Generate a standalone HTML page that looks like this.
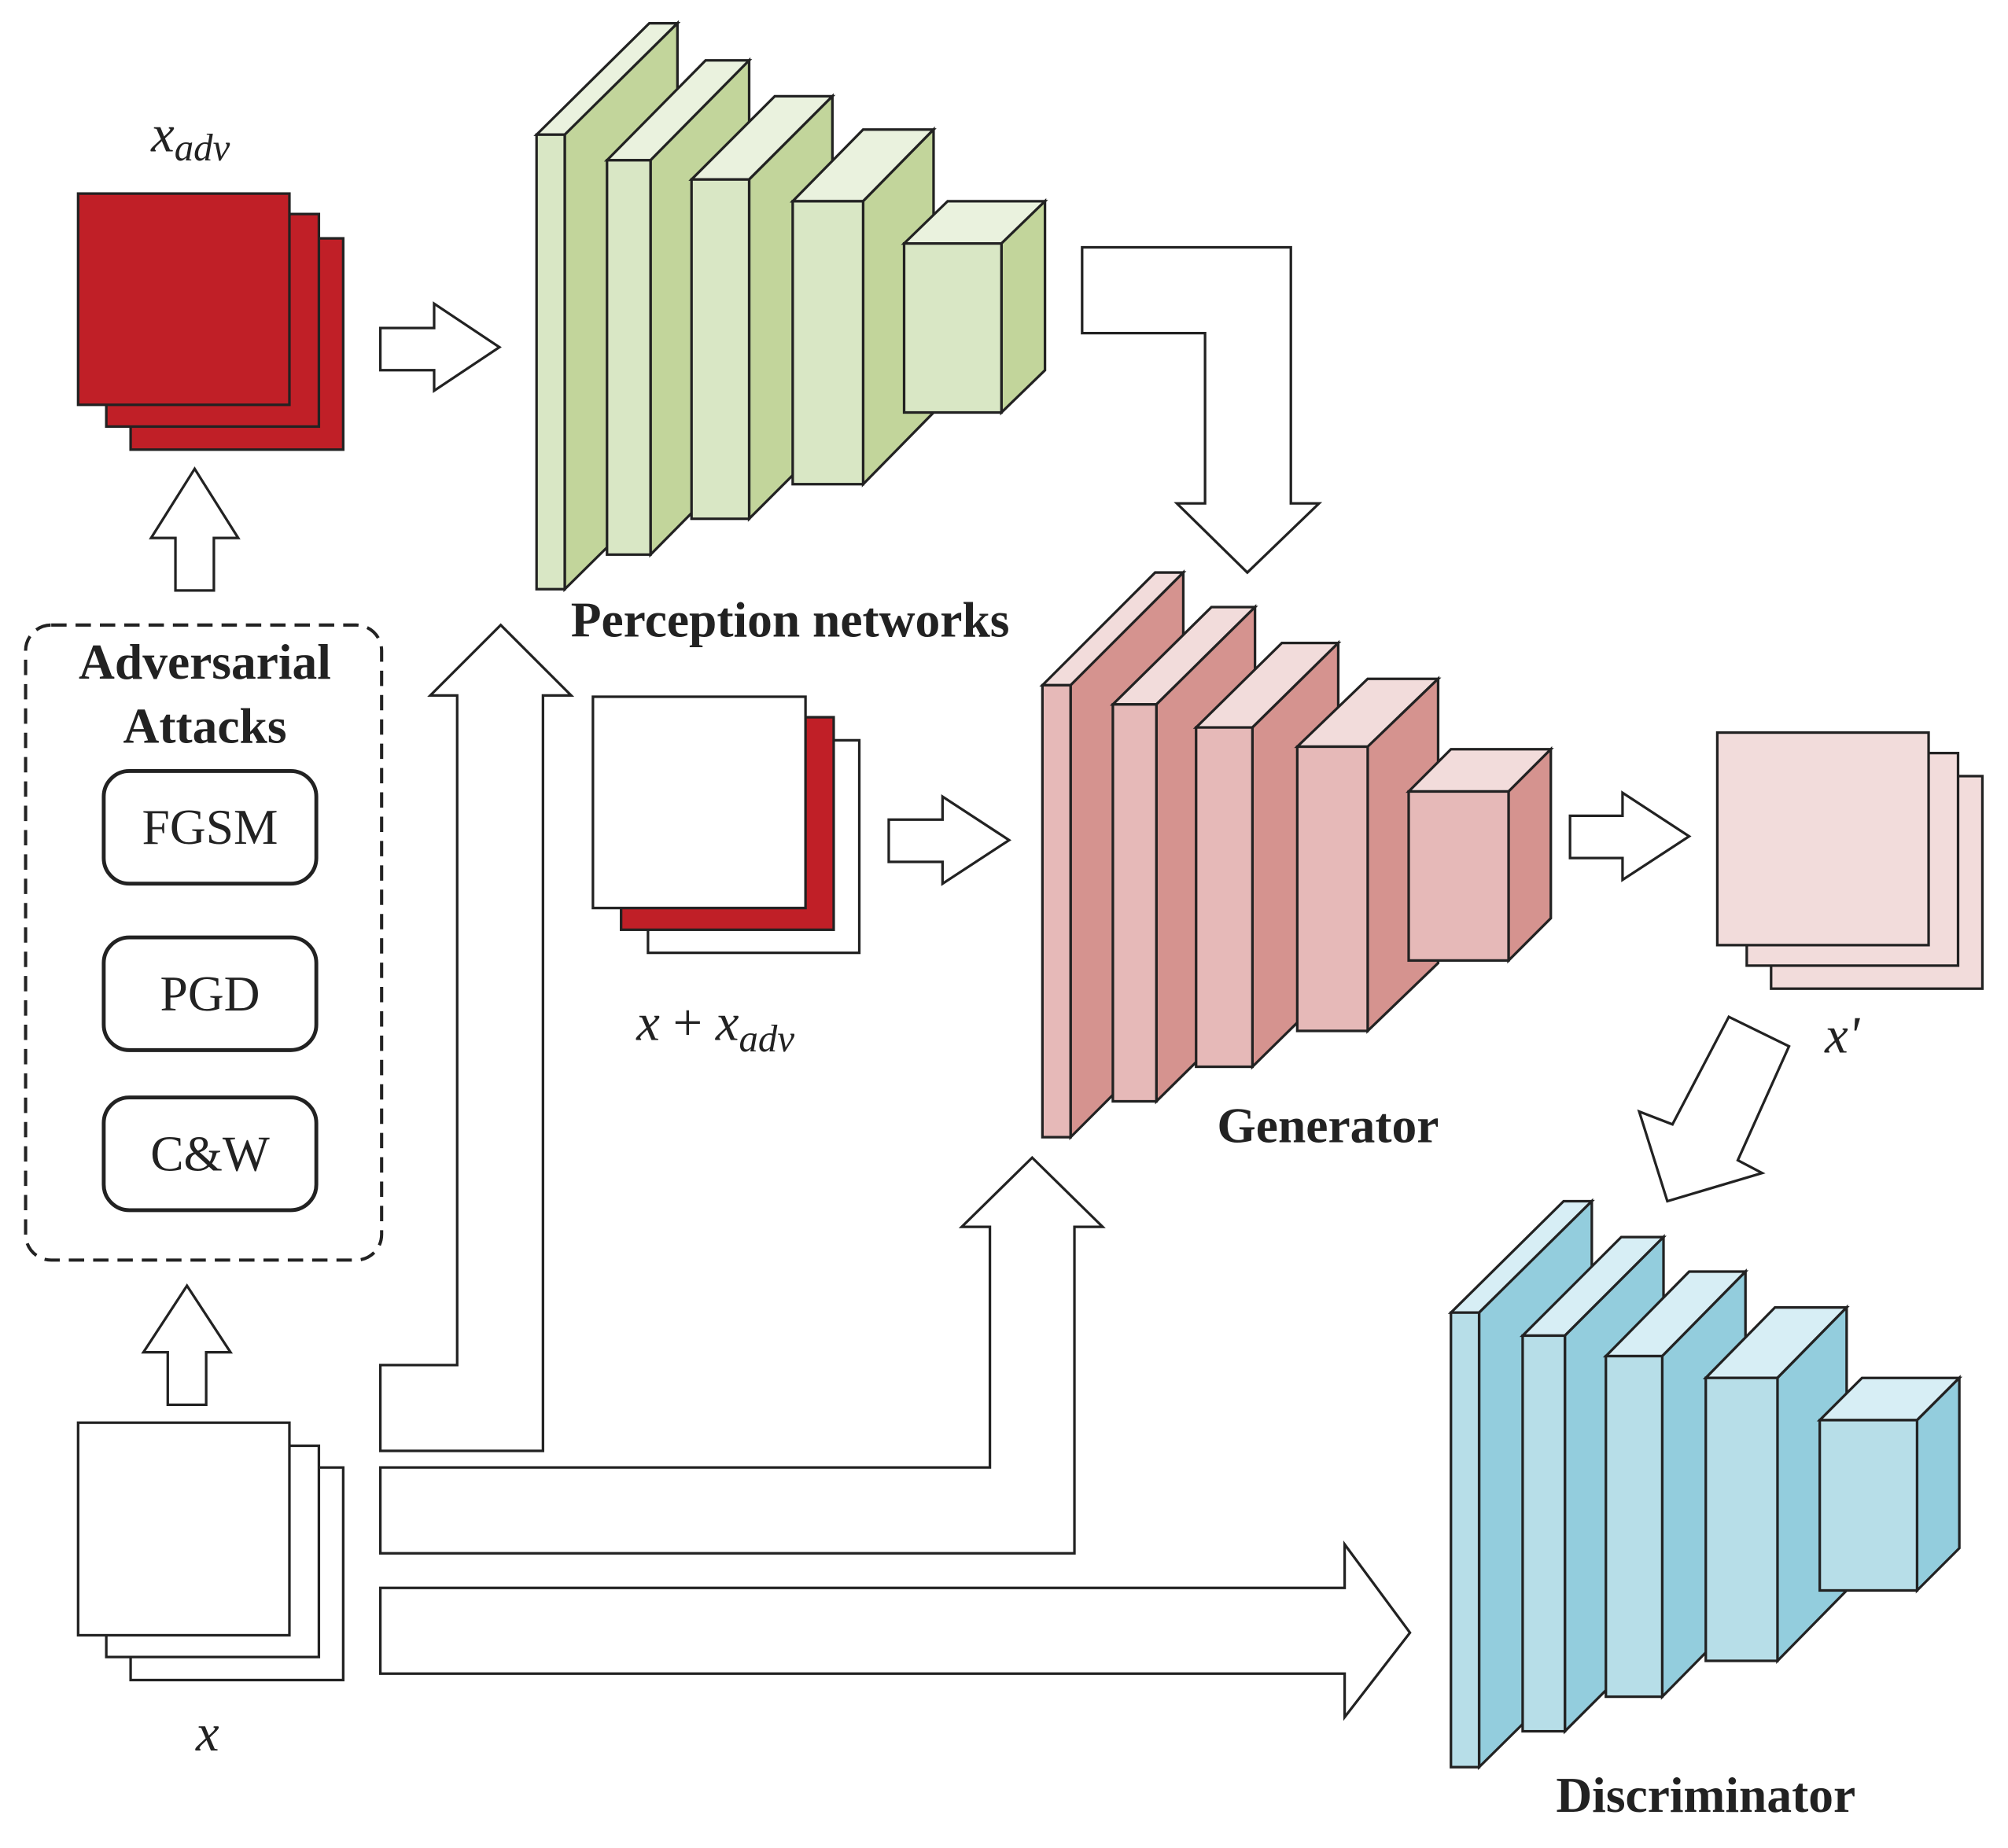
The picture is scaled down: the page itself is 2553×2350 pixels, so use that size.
<!DOCTYPE html>
<html><head><meta charset="utf-8"><style>
html,body{margin:0;padding:0;background:#fff;}
svg{display:block;}
text{font-family:"Liberation Serif",serif;fill:#222;}
</style></head><body>
<svg width="2553" height="2350" viewBox="0 0 1568 1443" xmlns="http://www.w3.org/2000/svg">
<g stroke="#222" stroke-width="2" stroke-linejoin="miter">
<rect x="102" y="186" width="166" height="165" fill="#C01F27"/>
<rect x="83" y="167" width="166" height="166" fill="#C01F27"/>
<rect x="61" y="151" width="165" height="165" fill="#C01F27"/>
<rect x="506" y="578" width="165" height="166" fill="#fff"/>
<rect x="485" y="560" width="166" height="166" fill="#C01F27"/>
<rect x="463" y="544" width="166" height="165" fill="#fff"/>
<rect x="1383" y="606" width="165" height="166" fill="#F2DCDB"/>
<rect x="1364" y="588" width="165" height="166" fill="#F2DCDB"/>
<rect x="1341" y="572" width="165" height="166" fill="#F2DCDB"/>
<rect x="102" y="1146" width="166" height="166" fill="#fff"/>
<rect x="83" y="1129" width="166" height="165" fill="#fff"/>
<rect x="61" y="1111" width="165" height="166" fill="#fff"/>

<g fill="#fff">
<polygon points="297,256 339,256 339,237 390,271 339,305 339,289 297,289"/>
<polygon points="694,640 736,640 736,622 788,656 736,690 736,673 694,673"/>
<polygon points="1226,637 1267,637 1267,619 1319,653 1267,687 1267,670 1226,670"/>
<polygon points="137,461 137,420 118,420 152,366 186,420 167,420 167,461"/>
<polygon points="131,1097 131,1056 112,1056 146,1004 180,1056 161,1056 161,1097"/>
<polygon points="845,193 1008,193 1008,393 1030,393 974,447 919,393 941,393 941,260 845,260"/>
<polygon points="1350,794 1397,817 1357,906 1376,916 1302,938 1280,868 1306,878"/>
<polygon points="297,1133 424,1133 424,543 446,543 391,488 336,543 357,543 357,1066 297,1066"/>
<polygon points="297,1213 839,1213 839,958 861,958 806,904 751,958 773,958 773,1146 297,1146"/>
<polygon points="297,1240 1050,1240 1050,1206 1101,1275 1050,1341 1050,1307 297,1307"/>
</g>

<rect x="20" y="488" width="278" height="496" rx="20" fill="none" stroke-dasharray="12,7" stroke-width="2.5"/>
<rect x="81" y="602" width="166" height="88" rx="20" fill="#fff" stroke-width="3"/>
<rect x="81" y="732" width="166" height="88" rx="20" fill="#fff" stroke-width="3"/>
<rect x="81" y="857" width="166" height="88" rx="20" fill="#fff" stroke-width="3"/>

<g>
<polygon points="419,105 507,18 529,18 441,105" fill="#EAF2DE"/><polygon points="441,105 529,18 529,373 441,460" fill="#C2D59B"/><rect x="419" y="105" width="22" height="355" fill="#D9E7C5"/>
<polygon points="474,125 551,47 585,47 508,125" fill="#EAF2DE"/><polygon points="508,125 585,47 585,355 508,433" fill="#C2D59B"/><rect x="474" y="125" width="34" height="308" fill="#D9E7C5"/>
<polygon points="540,140 605,75 650,75 585,140" fill="#EAF2DE"/><polygon points="585,140 650,75 650,340 585,405" fill="#C2D59B"/><rect x="540" y="140" width="45" height="265" fill="#D9E7C5"/>
<polygon points="619,157 674,101 729,101 674,157" fill="#EAF2DE"/><polygon points="674,157 729,101 729,322 674,378" fill="#C2D59B"/><rect x="619" y="157" width="55" height="221" fill="#D9E7C5"/>
<polygon points="706,190 740,157 816,157 782,190" fill="#EAF2DE"/><polygon points="782,190 816,157 816,289 782,322" fill="#C2D59B"/><rect x="706" y="190" width="76" height="132" fill="#D9E7C5"/>
</g>
<g>
<polygon points="814,535 902,447 924,447 836,535" fill="#F2DCDB"/><polygon points="836,535 924,447 924,800 836,888" fill="#D5938F"/><rect x="814" y="535" width="22" height="353" fill="#E6B9B8"/>
<polygon points="869,550 946,474 980,474 903,550" fill="#F2DCDB"/><polygon points="903,550 980,474 980,784 903,860" fill="#D5938F"/><rect x="869" y="550" width="34" height="310" fill="#E6B9B8"/>
<polygon points="934,568 1001,502 1045,502 978,568" fill="#F2DCDB"/><polygon points="978,568 1045,502 1045,767 978,833" fill="#D5938F"/><rect x="934" y="568" width="44" height="265" fill="#E6B9B8"/>
<polygon points="1013,583 1068,530 1123,530 1068,583" fill="#F2DCDB"/><polygon points="1068,583 1123,530 1123,752 1068,805" fill="#D5938F"/><rect x="1013" y="583" width="55" height="222" fill="#E6B9B8"/>
<polygon points="1100,618 1133,585 1211,585 1178,618" fill="#F2DCDB"/><polygon points="1178,618 1211,585 1211,717 1178,750" fill="#D5938F"/><rect x="1100" y="618" width="78" height="132" fill="#E6B9B8"/>
</g>
<g>
<polygon points="1133,1025 1221,938 1243,938 1155,1025" fill="#D7EEF5"/><polygon points="1155,1025 1243,938 1243,1293 1155,1380" fill="#93CDDD"/><rect x="1133" y="1025" width="22" height="355" fill="#B7DEE8"/>
<polygon points="1189,1043 1266,966 1299,966 1222,1043" fill="#D7EEF5"/><polygon points="1222,1043 1299,966 1299,1275 1222,1352" fill="#93CDDD"/><rect x="1189" y="1043" width="33" height="309" fill="#B7DEE8"/>
<polygon points="1254,1059 1319,993 1363,993 1298,1059" fill="#D7EEF5"/><polygon points="1298,1059 1363,993 1363,1259 1298,1325" fill="#93CDDD"/><rect x="1254" y="1059" width="44" height="266" fill="#B7DEE8"/>
<polygon points="1332,1076 1386,1021 1442,1021 1388,1076" fill="#D7EEF5"/><polygon points="1388,1076 1442,1021 1442,1242 1388,1297" fill="#93CDDD"/><rect x="1332" y="1076" width="56" height="221" fill="#B7DEE8"/>
<polygon points="1421,1109 1454,1076 1530,1076 1497,1109" fill="#D7EEF5"/><polygon points="1497,1109 1530,1076 1530,1209 1497,1242" fill="#93CDDD"/><rect x="1421" y="1109" width="76" height="133" fill="#B7DEE8"/>
</g>
</g>

<text x="118" y="118" font-size="41" font-style="italic">x<tspan font-size="30" dy="7">adv</tspan></text>
<text x="617" y="497" font-size="39" font-weight="bold" text-anchor="middle">Perception networks</text>
<text x="160" y="530" font-size="39" font-weight="bold" text-anchor="middle">Adversarial</text>
<text x="160" y="580" font-size="39" font-weight="bold" text-anchor="middle">Attacks</text>
<text x="164" y="659" font-size="39" text-anchor="middle">FGSM</text>
<text x="164" y="789" font-size="39" text-anchor="middle">PGD</text>
<text x="164" y="914" font-size="39" text-anchor="middle">C&amp;W</text>
<text x="497" y="812" font-size="41" font-style="italic">x<tspan font-style="normal"> + </tspan>x<tspan font-size="30" dy="9">adv</tspan></text>
<text x="1037" y="892" font-size="39" font-weight="bold" text-anchor="middle">Generator</text>
<text x="1425" y="822" font-size="41" font-style="italic">x'</text>
<text x="162" y="1367" font-size="41" font-style="italic" text-anchor="middle">x</text>
<text x="1332" y="1415" font-size="39" font-weight="bold" text-anchor="middle">Discriminator</text>
</svg>
</body></html>
